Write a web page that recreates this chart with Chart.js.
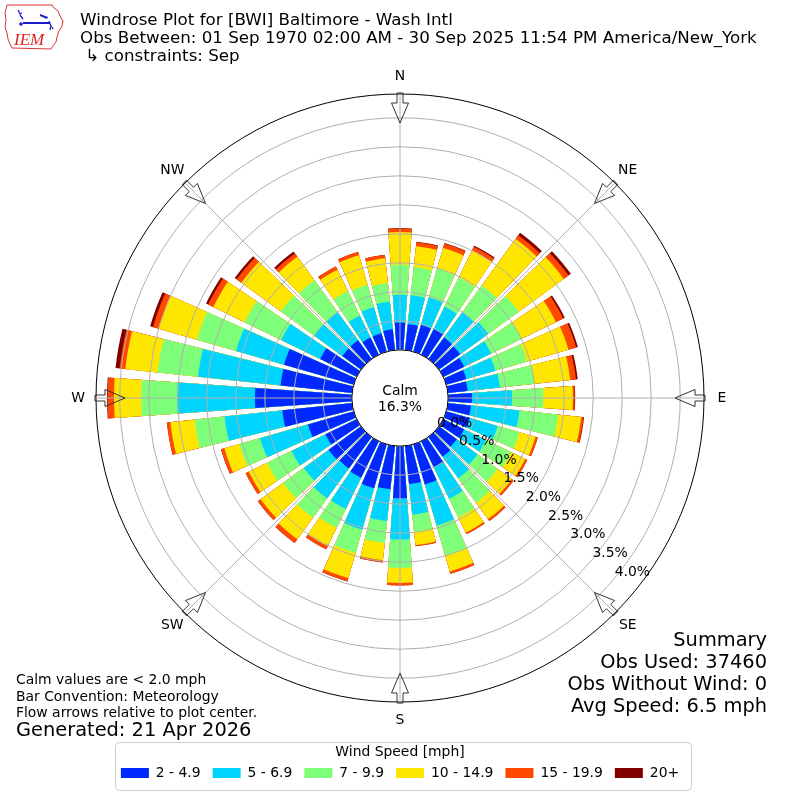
<!DOCTYPE html>
<html>
<head>
<meta charset="utf-8">
<script src="https://cdn.jsdelivr.net/npm/chart.js@4.4.1/dist/chart.umd.min.js"></script>
<style>
  body { margin: 0; background: #fff; }
  #wrap { position: relative; width: 800px; height: 800px; font-family: "DejaVu Sans", sans-serif; color: #000; }
  #myWindrose { position: absolute; left: 0; top: 0; }
  .txt { position: absolute; white-space: nowrap; }
</style>
</head>
<body>
<div id="wrap">
  <canvas id="myWindrose" width="800" height="800"></canvas>

  <!-- logo -->
  <svg style="position:absolute;left:0;top:0" width="70" height="56" viewBox="0 0 70 56">
    <path d="M7 5 L52 5 L54 8 L58 11 L60 16 L63 21 L62 26 L59 31 L57 37 L56 42 L53 46 L51 49 L12 48 L10 44 L8 39 L7 33 L5 27 L6 20 L5 13 Z" fill="none" stroke="#d33" stroke-width="1"/>
    <path d="M18 10 L20 14 L22 13 M20 15 L23 19" fill="none" stroke="#1a1ad0" stroke-width="1.3"/>
    <circle cx="21" cy="24" r="1.8" fill="#1a1ad0"/>
    <line x1="23" y1="23" x2="50" y2="23" stroke="#1a1ad0" stroke-width="2"/>
    <path d="M40 14 L48 17 L47 19 L40 16 Z" fill="#1a1ad0"/>
    <path d="M49 21 L51 26 L50 30 M52 27 L53 29" fill="none" stroke="#1a1ad0" stroke-width="1.3"/>
    <text x="14" y="45" font-family="Liberation Serif" font-style="italic" font-size="17" fill="#d22">IEM</text>
  </svg>

  <div class="txt" style="left:80px; top:10px; font-size:16.7px; line-height:18px;">Windrose Plot for [BWI] Baltimore - Wash Intl<br>Obs Between: 01 Sep 1970 02:00 AM - 30 Sep 2025 11:54 PM America/New_York<br>&nbsp;↳ constraints: Sep</div>

  <div class="txt" style="left:16px; top:671px; font-size:13.9px; line-height:16.5px;">Calm values are &lt; 2.0 mph<br>Bar Convention: Meteorology<br>Flow arrows relative to plot center.</div>
  <div class="txt" style="left:16px; top:719px; font-size:19.4px; line-height:22px;">Generated: 21 Apr 2026</div>

  <div class="txt" style="right:33px; top:629px; font-size:19.4px; line-height:22px; text-align:right;">Summary<br>Obs Used: 37460<br>Obs Without Wind: 0<br>Avg Speed: 6.5 mph</div>
</div>

<script>
// direcoes (graus) e faixas de velocidade
const directions = [0, 10, 20, 30, 40, 50, 60, 70, 80, 90, 100, 110, 120, 130, 140, 150, 160, 170,
                    180, 190, 200, 210, 220, 230, 240, 250, 260, 270, 280, 290, 300, 310, 320, 330, 340, 350]
const speedBins = ['2 - 4.9', '5 - 6.9', '7 - 9.9', '10 - 14.9', '15 - 19.9', '20+']
const binColors = ['#0028ff', '#00d4ff', '#7dff7a', '#ffe600', '#ff4800', '#800000']
const calmPercent = 16.3

// frequencia (%) por direcao, uma lista por faixa
const speed2to5 = [0.47, 0.45, 0.48, 0.50, 0.46, 0.45, 0.40, 0.36, 0.34, 0.41, 0.40, 0.42, 0.40, 0.38, 0.42, 0.50, 0.72, 0.66,
                   0.90, 0.75, 0.79, 0.70, 0.67, 0.69, 0.60, 0.82, 1.21, 1.67, 1.24, 1.25, 0.70, 0.40, 0.40, 0.33, 0.33, 0.36]
const speed5to7 = [0.48, 0.50, 0.49, 0.42, 0.54, 0.60, 0.52, 0.52, 0.56, 0.69, 0.84, 0.50, 0.42, 0.44, 0.46, 0.60, 0.74, 0.53,
                   0.71, 0.55, 0.74, 0.60, 0.64, 0.53, 0.65, 0.86, 1.00, 1.34, 1.43, 0.86, 0.75, 0.60, 0.60, 0.42, 0.47, 0.48]
const speed7to10 = [0.52, 0.49, 0.52, 0.56, 0.57, 0.65, 0.58, 0.57, 0.60, 0.54, 0.67, 0.39, 0.48, 0.43, 0.52, 0.36, 0.54, 0.30,
                    0.49, 0.38, 0.42, 0.36, 0.41, 0.44, 0.47, 0.37, 0.52, 0.62, 0.70, 0.70, 0.70, 0.71, 0.68, 0.47, 0.40, 0.32]
const speed10to15 = [0.56, 0.36, 0.37, 0.52, 0.99, 0.96, 0.66, 0.74, 0.62, 0.51, 0.40, 0.29, 0.27, 0.30, 0.35, 0.29, 0.28, 0.23,
                     0.26, 0.30, 0.45, 0.35, 0.46, 0.48, 0.35, 0.27, 0.42, 0.47, 0.56, 0.69, 0.60, 0.84, 0.50, 0.41, 0.53, 0.43]
const speed15to20 = [0.06, 0.07, 0.08, 0.07, 0.08, 0.10, 0.14, 0.14, 0.10, 0.03, 0.04, 0.04, 0.04, 0.04, 0.04, 0.03, 0.04, 0.02,
                     0.04, 0.04, 0.06, 0.06, 0.08, 0.06, 0.06, 0.06, 0.06, 0.11, 0.10, 0.10, 0.10, 0.10, 0.07, 0.06, 0.06, 0.06]
const speed20plus = [0.01, 0.01, 0.01, 0.02, 0.05, 0.05, 0.03, 0.03, 0.03, 0.01, 0.01, 0, 0, 0, 0, 0, 0, 0,
                     0, 0, 0, 0, 0, 0, 0, 0, 0, 0.01, 0.07, 0.05, 0.04, 0.04, 0.04, 0, 0, 0]

const radialTicks = [0, 0.5, 1.0, 1.5, 2.0, 2.5, 3.0, 3.5, 4.0]
const compassLabels = ['N', 'NE', 'E', 'SE', 'S', 'SW', 'W', 'NW']

// escala: minimo negativo deixa o 0% na borda do circulo de calmaria
const R_MIN = -0.83
const R_MAX = 4.41
const BAR_DEG = 8
const GAP_DEG = 2

// cada direcao vira uma barra + um vao; valores acumulados (empilhados)
const binData = [speed2to5, speed5to7, speed7to10, speed10to15, speed15to20, speed20plus]
const running = directions.map(() => 0)
const sliceLabels = []
directions.forEach(d => { sliceLabels.push(d + '°', '') })

const datasets = binData.map((vals, k) => {
    const data = []
    vals.forEach((v, i) => {
        running[i] += v
        data.push(+running[i].toFixed(3), R_MIN)
    })
    return {
        label: speedBins[k],
        data: data,
        backgroundColor: ctx => ctx.dataIndex % 2 ? 'rgba(0,0,0,0)' : binColors[k],
        borderWidth: 0,
        angle: ctx => ctx.dataIndex % 2 ? GAP_DEG : BAR_DEG,
    }
})

const rad = d => d * Math.PI / 180

const windroseExtras = {
    id: 'windroseExtras',
    afterDraw(chart) {
        const ctx = chart.ctx
        const s = chart.scales.r
        const cx = s.xCenter, cy = s.yCenter
        const outer = s.getDistanceFromCenterForValue(s.max)
        const calmR = s.getDistanceFromCenterForValue(0)
        const at = (deg, r, v) => [cx + r * Math.sin(rad(deg)) + (v || 0) * Math.cos(rad(deg)),
                                   cy - r * Math.cos(rad(deg)) + (v || 0) * Math.sin(rad(deg))]
        ctx.save()

        // raios a cada 45 graus
        ctx.strokeStyle = '#b0b0b0'
        ctx.lineWidth = 1
        compassLabels.forEach((lab, i) => {
            const p = at(i * 45, outer)
            ctx.beginPath(); ctx.moveTo(cx, cy); ctx.lineTo(p[0], p[1]); ctx.stroke()
        })

        // circulo de calmaria
        ctx.beginPath()
        ctx.arc(cx, cy, calmR, 0, Math.PI * 2)
        ctx.fillStyle = '#fff'; ctx.fill()
        ctx.strokeStyle = '#000'; ctx.stroke()
        ctx.fillStyle = '#000'
        ctx.font = '13.9px "DejaVu Sans"'
        ctx.textAlign = 'center'; ctx.textBaseline = 'middle'
        ctx.fillText('Calm', cx, cy - 7)
        ctx.fillText(calmPercent.toFixed(1) + '%', cx, cy + 9)

        // rotulos radiais
        ctx.textAlign = 'left'
        radialTicks.forEach(v => {
            const p = at(130, s.getDistanceFromCenterForValue(v))
            ctx.fillText(v.toFixed(1) + '%', p[0], p[1] - 6)
        })

        // pontos cardeais + setas
        ctx.textAlign = 'center'
        compassLabels.forEach((lab, i) => {
            const a = i * 45
            const p = at(a, outer + 18)
            ctx.fillText(lab, p[0], p[1])
            const shape = [[outer + 1, -3], [outer - 9, -3], [outer - 9, -8.5], [outer - 29, 0],
                           [outer - 9, 8.5], [outer - 9, 3], [outer + 1, 3]]
            ctx.beginPath()
            shape.forEach((q, j) => {
                const pt = at(a, q[0], q[1])
                if (j === 0) ctx.moveTo(pt[0], pt[1]); else ctx.lineTo(pt[0], pt[1])
            })
            ctx.closePath()
            ctx.strokeStyle = '#333'
            ctx.stroke()
        })

        // moldura da legenda
        const lg = chart.legend
        const hb = lg.legendHitBoxes
        if (hb && hb.length) {
            const last = hb[hb.length - 1]
            const x0 = hb[0].left - 6, x1 = last.left + last.width + 12
            const y0 = Math.round(lg.top) + 40, y1 = Math.round(lg.top) + 88
            ctx.beginPath()
            ctx.roundRect(Math.round(x0) + 0.5, y0 + 0.5, Math.round(x1 - x0), y1 - y0, 4)
            ctx.strokeStyle = '#cccccc'
            ctx.stroke()
        }
        ctx.restore()
    }
}

Chart.defaults.font.family = '"DejaVu Sans", sans-serif'
Chart.defaults.color = '#000'

var roseCtx = document.getElementById('myWindrose').getContext('2d')
const roseChart = new Chart(roseCtx, {
    type: 'polarArea',
    data: {
        labels: sliceLabels,
        datasets: datasets,
    },
    options: {
        responsive: false,
        animation: false,
        events: [],
        layout: {
            padding: { left: 96, right: 96, top: 94, bottom: 10 }
        },
        plugins: {
            tooltip: { enabled: false },
            legend: {
                position: 'bottom',
                title: {
                    display: true,
                    text: 'Wind Speed [mph]',
                    font: { size: 13.9, lineHeight: 1 },
                    padding: { top: 43, bottom: -5 },
                },
                labels: {
                    boxWidth: 28,
                    boxHeight: 10,
                    padding: 12,
                    font: { size: 13.9 },
                    generateLabels: chart => chart.data.datasets.map((ds, i) => ({
                        text: ds.label,
                        fillStyle: binColors[i],
                        strokeStyle: binColors[i],
                        lineWidth: 0,
                        hidden: false,
                        datasetIndex: i,
                    })),
                },
            },
        },
        scales: {
            r: {
                min: R_MIN,
                max: R_MAX,
                startAngle: -BAR_DEG / 2,
                ticks: { display: false },
                grid: {
                    circular: true,
                    z: 1,
                    color: ctx => ctx.tick && ctx.tick.value === R_MAX ? '#000' : '#b0b0b0',
                },
                angleLines: { display: false },
                pointLabels: { display: false },
                afterBuildTicks: scale => {
                    scale.ticks = radialTicks.concat([R_MAX]).map(v => ({ value: v }))
                },
            }
        }
    },
    plugins: [windroseExtras],
});
</script>
</body>
</html>
